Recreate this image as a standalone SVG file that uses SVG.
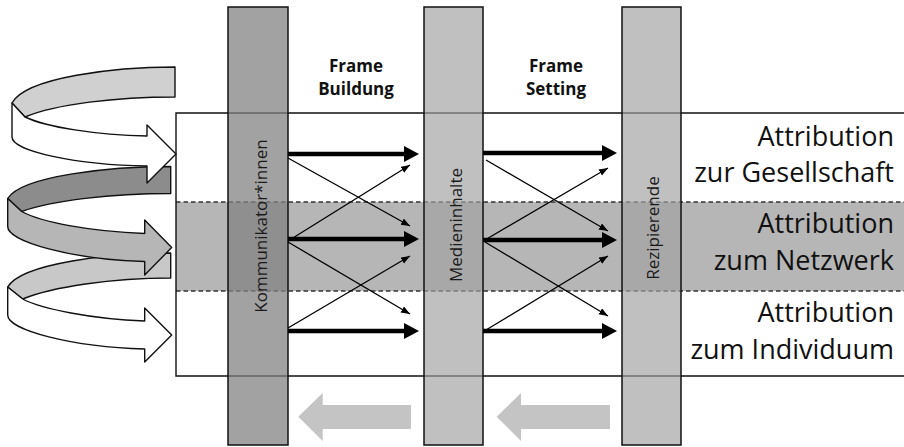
<svg xmlns="http://www.w3.org/2000/svg" width="904" height="447" viewBox="0 0 904 447">
<style>
.ln{stroke:#111;stroke-width:1.4;fill:none}
.dash{stroke:#333;stroke-width:1.3;stroke-dasharray:4.5 3;fill:none}
.c1{fill:#818181;fill-opacity:.74;stroke:#111;stroke-width:1.5}
.c2{fill:#a1a1a1;fill-opacity:.67;stroke:#111;stroke-width:1.5}
.thick{stroke:#000;stroke-width:4.5;fill:none;marker-end:url(#hb)}
.thin{stroke:#000;stroke-width:1.3;fill:none;marker-end:url(#hs)}
.curl{stroke:#111;stroke-width:1.4;stroke-linejoin:round}
.back{fill:#c4c4c4}
.lbl{font-family:"Open Sans","Noto Sans",sans-serif;font-size:17px;fill:#1a1a1a;text-anchor:middle}
.hd{font-family:"Open Sans","Noto Sans",sans-serif;font-size:17px;font-weight:bold;fill:#111;text-anchor:middle}
.att{font-family:"Open Sans","Noto Sans",sans-serif;font-size:27px;fill:#111;text-anchor:end}
</style>
<defs>
<marker id="hb" markerUnits="userSpaceOnUse" markerWidth="16" markerHeight="16" refX="1" refY="8" orient="auto"><path d="M0,0 L15,8 L0,16 Z" fill="#000"/></marker>
<marker id="hs" markerUnits="userSpaceOnUse" markerWidth="10" markerHeight="8" refX="9" refY="3.5" orient="auto"><path d="M0,0 L9,3.5 L0,7 Z" fill="#000"/></marker>
</defs>
<rect width="904" height="447" fill="#fff"/>

<g id="curl-arrows">
<g id="curl3" transform="translate(171.7,335)">
<path class="curl" fill="#c8c8c8" d="M-1,-82 C-60,-82 -150,-72 -164,-48 L-149,-36 C-120,-48 -60,-57 -1,-57 Z"/>
<path class="curl" fill="#fff" d="M-164,-48 L-164,-20 C-164,-5 -100,12 -27,14 L-27,27 L0,0 L-27,-27 L-27,-14 C-80,-16 -130,-26 -149,-36 Z"/>
</g>
<g id="curl2" transform="translate(171.7,247.5)">
<path class="curl" fill="#8c8c8c" d="M-1,-81 C-60,-81 -150,-72 -164,-49 L-150,-36 C-120,-47 -60,-54 -1,-54 Z"/>
<path class="curl" fill="#b6b6b6" d="M-164,-49 L-164,-21 C-164,-6 -100,12 -27,14 L-27,27.5 L0,0 L-27,-27.5 L-27,-14 C-80,-16 -130,-25 -150,-36 Z"/>
</g>
<g id="curl1" transform="translate(176,154)">
<path class="curl" fill="#d0d0d0" d="M-1,-87 C-60,-87 -150,-77 -164,-51 L-151,-37 C-120,-50 -60,-57 -1,-57 Z"/>
<path class="curl" fill="#fff" d="M-164,-51 L-164,-17 C-164,-3 -100,11 -29,12 L-29,29 L0,0 L-29,-29 L-29,-18 C-80,-19 -130,-27 -151,-37 Z"/>
</g>
</g>

<g id="frame">
<rect x="176" y="202" width="740" height="89" fill="#b6b6b6"/>
<line class="dash" x1="176" y1="202" x2="904" y2="202"/>
<line class="dash" x1="176" y1="291" x2="904" y2="291"/>
<path class="ln" d="M910,113 L176,113 L176,376 L910,376"/>
</g>

<g id="kommunikatorinnen">
<rect class="c1" x="228" y="7" width="60" height="438"/>
<text class="lbl" transform="translate(266.5,226) rotate(-90)">Kommunikator*innen</text>
</g>
<g id="medieninhalte">
<rect class="c2" x="424" y="7" width="59" height="438"/>
<text class="lbl" transform="translate(462,225) rotate(-90)">Medieninhalte</text>
</g>
<g id="rezipierende">
<rect class="c2" x="622" y="7" width="59" height="438"/>
<text class="lbl" transform="translate(658.5,228) rotate(-90)">Rezipierende</text>
</g>

<g id="frame-building">
<text class="hd" x="356" y="72">Frame</text>
<text class="hd" x="356" y="95">Buildung</text>
</g>
<g id="frame-setting">
<text class="hd" x="556" y="72">Frame</text>
<text class="hd" x="556" y="95">Setting</text>
</g>

<g id="attr-gesellschaft">
<text class="att" x="894" y="146">Attribution</text>
<text class="att" x="894" y="182">zur Gesellschaft</text>
</g>
<g id="attr-netzwerk">
<text class="att" x="894" y="233">Attribution</text>
<text class="att" x="894" y="270">zum Netzwerk</text>
</g>
<g id="attr-individuum">
<text class="att" x="894" y="322">Attribution</text>
<text class="att" x="894" y="359">zum Individuum</text>
</g>

<g id="feedback-arrows" fill="#c4c4c4">
<polygon points="298.3,416.7 322.7,393 322.7,405 411,405 411,429 322.7,429 322.7,441"/>
<polygon points="496.7,416.7 521,393 521,405 610,405 610,429 521,429 521,441"/>
</g>

<g id="connectors">
<line class="thick" x1="288" y1="154" x2="405" y2="154"/>
<line class="thick" x1="288" y1="239" x2="405" y2="239"/>
<line class="thick" x1="288" y1="331" x2="405" y2="331"/>
<line class="thin" x1="288" y1="158" x2="410" y2="226"/>
<line class="thin" x1="288" y1="241" x2="410" y2="165"/>
<line class="thin" x1="288" y1="242" x2="410" y2="314"/>
<line class="thin" x1="288" y1="328" x2="410" y2="256"/>
<line class="thick" x1="483" y1="153" x2="603" y2="153"/>
<line class="thick" x1="483" y1="240" x2="603" y2="240"/>
<line class="thick" x1="483" y1="331" x2="603" y2="331"/>
<line class="thin" x1="486" y1="160" x2="608" y2="231"/>
<line class="thin" x1="485" y1="240" x2="608" y2="168"/>
<line class="thin" x1="485" y1="242" x2="608" y2="316"/>
<line class="thin" x1="486" y1="330" x2="608" y2="256"/>
</g>
</svg>
